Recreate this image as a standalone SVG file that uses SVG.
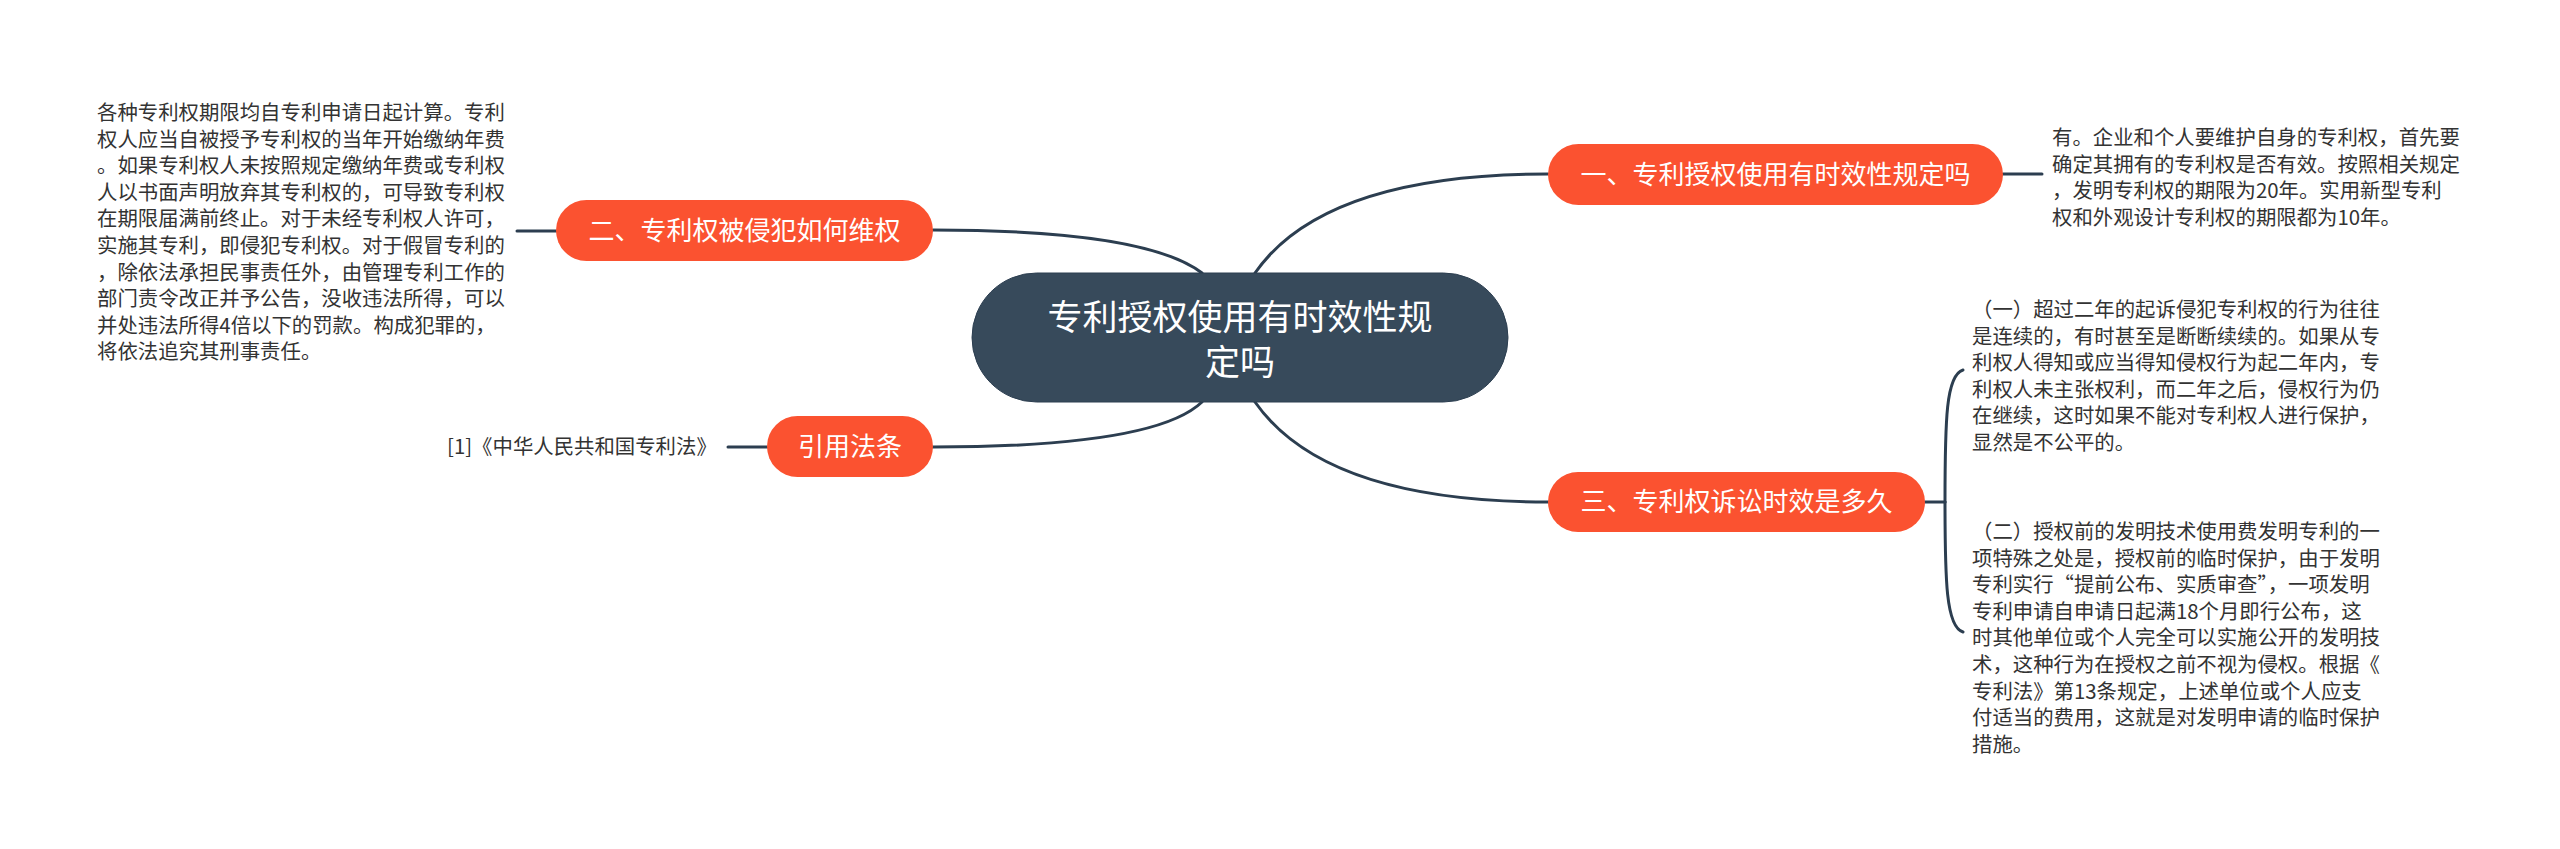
<svg xmlns="http://www.w3.org/2000/svg" width="2560" height="849" viewBox="0 0 2560 849">
<style>
.bg{fill:#ffffff}
.link{fill:none;stroke:#2c3e50;stroke-width:3;stroke-linecap:round}
.root{fill:#374a5b;stroke:#2c3e50;stroke-width:1}
.rootText{font-family:"Noto Sans CJK SC","Noto Sans",sans-serif;font-size:35px;fill:#ffffff;text-anchor:middle}
.topic{fill:#fb5230}
.topicText{font-family:"Noto Sans CJK SC","Noto Sans",sans-serif;font-size:26px;fill:#ffffff;text-anchor:middle}
.note{font-family:"Noto Sans CJK SC","Noto Sans",sans-serif;font-size:20.4px;fill:#333333}
</style>
<rect class="bg" x="0" y="0" width="2560" height="849"/>
<g id="connectors">
<path class="link" d="M1202,273 Q1146,230 933,230"/>
<path class="link" d="M1255,273 Q1324,174 1548,174"/>
<path class="link" d="M1202,402 Q1155,447 933,447"/>
<path class="link" d="M1255,402 Q1325,502 1548,502"/>
<path class="link" d="M517,231 L556,231"/>
<path class="link" d="M728,447 L767,447"/>
<path class="link" d="M2003,174 L2042,174"/>
<path class="link" d="M1925,502 L1945,502"/>
<path class="link" d="M1945,502 C1945,420 1946,375 1963,370"/>
<path class="link" d="M1945,502 C1945,580 1946,627 1963,632"/>
</g>
<g id="root">
<rect class="root" x="972" y="273" width="536" height="129" rx="64.5" ry="64.5"/>
<text class="rootText" x="1240" y="330">专利授权使用有时效性规</text>
<text class="rootText" x="1240" y="375">定吗</text>
</g>
<g id="topic1">
<rect class="topic" x="1548" y="144" width="455" height="61" rx="30.5" ry="30.5"/>
<text class="topicText" x="1775.5" y="184">一、专利授权使用有时效性规定吗</text>
</g>
<g id="topic2">
<rect class="topic" x="556" y="200" width="377" height="61" rx="30.5" ry="30.5"/>
<text class="topicText" x="744.5" y="240">二、专利权被侵犯如何维权</text>
</g>
<g id="topic3">
<rect class="topic" x="1548" y="472" width="377" height="60" rx="30" ry="30"/>
<text class="topicText" x="1736.5" y="511">三、专利权诉讼时效是多久</text>
</g>
<g id="topic4">
<rect class="topic" x="767" y="416" width="166" height="61" rx="30.5" ry="30.5"/>
<text class="topicText" x="850" y="456">引用法条</text>
</g>
<g id="note1">
<text class="note" x="2052" y="145">
<tspan x="2052" y="145">有。企业和个人要维护自身的专利权，首先要</tspan>
<tspan x="2052" y="171.6">确定其拥有的专利权是否有效。按照相关规定</tspan>
<tspan x="2052" y="198.2">，发明专利权的期限为20年。实用新型专利</tspan>
<tspan x="2052" y="224.8">权和外观设计专利权的期限都为10年。</tspan>
</text>
</g>
<g id="note2">
<text class="note" x="97" y="120">
<tspan x="97" y="120">各种专利权期限均自专利申请日起计算。专利</tspan>
<tspan x="97" y="146.6">权人应当自被授予专利权的当年开始缴纳年费</tspan>
<tspan x="97" y="173.2">。如果专利权人未按照规定缴纳年费或专利权</tspan>
<tspan x="97" y="199.8">人以书面声明放弃其专利权的，可导致专利权</tspan>
<tspan x="97" y="226.4">在期限届满前终止。对于未经专利权人许可，</tspan>
<tspan x="97" y="253">实施其专利，即侵犯专利权。对于假冒专利的</tspan>
<tspan x="97" y="279.6">，除依法承担民事责任外，由管理专利工作的</tspan>
<tspan x="97" y="306.2">部门责令改正并予公告，没收违法所得，可以</tspan>
<tspan x="97" y="332.8">并处违法所得4倍以下的罚款。构成犯罪的，</tspan>
<tspan x="97" y="359.4">将依法追究其刑事责任。</tspan>
</text>
</g>
<g id="note3a">
<text class="note" x="1972" y="317">
<tspan x="1972" y="317">（一）超过二年的起诉侵犯专利权的行为往往</tspan>
<tspan x="1972" y="343.6">是连续的，有时甚至是断断续续的。如果从专</tspan>
<tspan x="1972" y="370.2">利权人得知或应当得知侵权行为起二年内，专</tspan>
<tspan x="1972" y="396.8">利权人未主张权利，而二年之后，侵权行为仍</tspan>
<tspan x="1972" y="423.4">在继续，这时如果不能对专利权人进行保护，</tspan>
<tspan x="1972" y="450">显然是不公平的。</tspan>
</text>
</g>
<g id="note3b">
<text class="note" x="1972" y="539">
<tspan x="1972" y="539">（二）授权前的发明技术使用费发明专利的一</tspan>
<tspan x="1972" y="565.6">项特殊之处是，授权前的临时保护，由于发明</tspan>
<tspan x="1972" y="592.2">专利实行“提前公布、实质审查”，一项发明</tspan>
<tspan x="1972" y="618.8">专利申请自申请日起满18个月即行公布，这</tspan>
<tspan x="1972" y="645.4">时其他单位或个人完全可以实施公开的发明技</tspan>
<tspan x="1972" y="672">术，这种行为在授权之前不视为侵权。根据《</tspan>
<tspan x="1972" y="698.6">专利法》第13条规定，上述单位或个人应支</tspan>
<tspan x="1972" y="725.2">付适当的费用，这就是对发明申请的临时保护</tspan>
<tspan x="1972" y="751.8">措施。</tspan>
</text>
</g>
<g id="note4">
<text class="note" x="447" y="454">[1]《中华人民共和国专利法》</text>
</g>
</svg>
